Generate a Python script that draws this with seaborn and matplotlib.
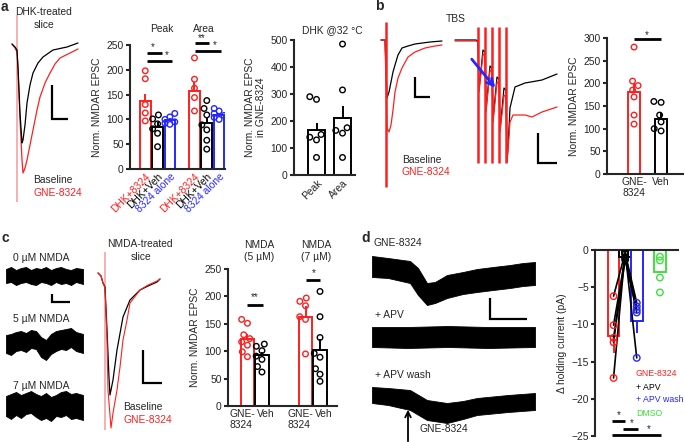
import numpy as np
import pandas as pd
import matplotlib.pyplot as plt
import seaborn as sns

# Figure size in pixels
W, H = 685, 442

sns.set_style('ticks')
plt.rcParams['font.family'] = ['Liberation Sans', 'DejaVu Sans']
plt.rcParams['font.size'] = 7.4
plt.rcParams['axes.linewidth'] = 1.5

RED = '#ff1f1f'
BLUE = '#2626ff'
GREEN = '#3ee03e'
PINK = '#f5a3a3'
FS = 7.4

# ---------------- data ----------------
# a: DHK-treated slice traces (time, amplitude relative to baseline)
a_t_red = [4, 7, 9, 10, 12, 14, 15, 17, 19, 22, 25, 29, 32, 37, 42, 47, 52, 62, 70]
a_red = [0, -4, -8, -26, -76, -116, -129, -124, -116, -101, -86, -66, -53, -39, -29, -20, -14, -9, -5]
a_t_blk = [4, 7, 9, 10, 12, 14, 15, 17, 19, 22, 25, 30, 35, 45, 59, 70]
a_blk = [0, -3, -6, -23, -69, -99, -96, -81, -59, -41, -29, -19, -13, -6, -3, 1]

# a: bar chart (Peak / Area)
a_groups = ['DHK+8324', 'DHK+Veh', '8324 alone', 'DHK+8324', 'DHK+Veh', '8324 alone']
a_mean = [137, 84, 99, 158, 93, 108]
a_sem = [14, 10, 4, 18, 10, 5]
a_pts = [[198, 182, 130, 113, 97],
         [109, 101, 91, 81, 72, 45],
         [112, 105, 100, 95, 92, 90],
         [224, 181, 163, 144, 117],
         [138, 122, 109, 89, 79, 58, 40],
         [122, 117, 112, 108, 104, 100]]

# a: DHK @32 C
a2_groups = ['Peak', 'Area']
a2_mean = [167, 210]
a2_sem = [27, 45]
a2_pts = [[290, 280, 150, 140, 130, 65], [485, 315, 175, 165, 155, 65]]

# b: TBS traces
b1_t_red = [3, 7, 9, 11, 13, 15, 17, 20, 24, 30, 37, 47, 57, 64]
b1_red = [0, 0, -88, -92, -85, -70, -52, -38, -28, -17, -12, -8, -6, -5]
b1_t_blk = [3, 7, 9, 11, 13, 15, 17, 20, 24, 30, 37, 52, 64]
b1_blk = [0, 0, -58, -52, -42, -32, -25, -15, -8, -6, -4, -2, -1]
b2_stim = [28, 35, 42, 49, 56]
b2_t_blk = [5, 26, 28, 29, 33, 35, 36, 40, 42, 43, 47, 49, 50, 54, 56, 57, 58, 60, 65, 75, 92, 107]
b2_blk = [0, 0, -1, -50, -10, -12, -70, -26, -28, -80, -37, -39, -90, -48, -50, -120, -108, -68, -47, -43, -40, -34]
b2_t_red = [5, 26, 28, 29, 33, 35, 36, 40, 42, 43, 47, 49, 50, 54, 56, 57, 58, 60, 63, 75, 82, 92, 107]
b2_red = [-1, -1, -2, -52, -14, -16, -72, -30, -32, -82, -42, -44, -92, -55, -57, -122, -110, -82, -75, -75, -77, -72, -67]

# b: bar chart
b_groups = ['GNE-\n8324', 'Veh']
b_mean = [180, 122]
b_sem = [20, 12]
b_pts = [[280, 205, 195, 185, 170, 130, 110], [160, 158, 130, 115, 100, 95]]

# c: holding current noise (upper / lower envelope)
c_t = [2, 7, 12, 17, 22, 27, 32, 37, 42, 47, 52, 57, 62, 67, 72, 79]
c_up = [[7, 9, 6, 8, 9, 6, 8, 7, 9, 6, 8, 9, 7, 6, 8, 7],
        [8, 9, 11, 12, 10, 13, 12, 6, 3, 9, 12, 13, 14, 15, 11, 9],
        [10, 12, 14, 11, 13, 15, 12, 10, 13, 9, 11, 14, 15, 12, 13, 11]]
c_lo = [[-7, -6, -9, -7, -6, -8, -9, -6, -7, -9, -6, -8, -7, -9, -6, -8],
        [-10, -12, -8, -7, -9, -5, -6, -14, -17, -11, -8, -6, -7, -4, -8, -10],
        [-10, -13, -9, -12, -8, -7, -11, -14, -12, -15, -10, -11, -9, -13, -12, -14]]
c_names = ['0 \u00b5M NMDA', '5 \u00b5M NMDA', '7 \u00b5M NMDA']

# c: NMDA-treated slice traces
c2_t_blk = [3, 6, 8, 10, 12, 14, 15, 18, 22, 28, 35, 45, 53, 62, 65]
c2_blk = [3, 0, -7, -11, -54, -102, -119, -104, -74, -41, -24, -14, -10, -6, -3]
c2_t_red = [3, 6, 8, 10, 12, 13, 16, 18, 22, 25, 28, 32, 35, 45, 53, 62, 65]
c2_red = [3, 0, -7, -12, -64, -114, -152, -137, -114, -91, -64, -44, -27, -14, -9, -5, -3]

# c: bar chart
c_groups = ['GNE-\n8324', 'Veh', 'GNE-\n8324', 'Veh']
c_mean = [122, 93, 163, 102]
c_sem = [9, 6, 20, 21]
c_pts = [[158, 151, 130, 123, 117, 111, 99, 90],
         [113, 109, 101, 91, 85, 72, 62],
         [197, 191, 183, 163, 158, 95],
         [209, 163, 125, 96, 89, 68, 58, 45]]

# d: holding current traces (upper / lower envelope)
d_t = [[4, 20, 42, 50, 59, 67, 79, 95, 109, 125, 142, 155, 167],
       [4, 40, 80, 120, 167],
       [4, 20, 42, 59, 79, 95, 109, 140, 167]]
d_up = [[10, 8, 5, -2, -17, -16, -9, -6, -3, -1, 1, 3, 4],
        [10, 10, 11, 10, 10],
        [8, 7, 5, -5, -8, -6, -3, 0, 2]]
d_lo = [[-11, -12, -17, -29, -39, -37, -32, -28, -26, -24, -22, -20, -19],
        [-10, -11, -10, -11, -10],
        [-8, -10, -15, -25, -28, -24, -20, -17, -15]]
d_names = ['GNE-8324', '+ APV', '+ APV wash']

# d: bar chart, paired cells
d_groups = ['GNE-8324', '+ APV', '+ APV wash', 'DMSO']
d_mean = [-11.5, -1.0, -9.5, -3.0]
d_sem = [2.4, 0, 1.7, 0]
d_gne = [-6.2, -10.1, -12.4, -17.2, -11.8]
d_apv = [-0.4, -1.0, -0.6, -0.2, -1.3]
d_wash = [-7.1, -8.4, -7.6, -14.5, -8.05]
d_dmso = [-0.9, -1.4, -3.7, -5.7]

# ---------------- helpers ----------------
fig = plt.figure(figsize=(W / 100, H / 100), dpi=100)


def rect(l, t, r, b):
    return [l / W, 1 - b / H, (r - l) / W, (b - t) / H]


def label(x, y, s, **kw):
    kw.setdefault('va', 'center')
    fig.text(x / W, 1 - y / H, s, **kw)


def trace_ax(l, t, r, b, y0):
    ax = fig.add_axes(rect(l, t, r, b))
    ax.set_xlim(0, r - l)
    ax.set_ylim(-(b - y0), y0 - t)
    ax.axis('off')
    return ax


def scalebar(ax, x, y, w, h):
    ax.plot([x, x, x + w], [y + h, y, y], color='k', lw=1.6,
            solid_joinstyle='miter', solid_capstyle='butt', clip_on=False)


def hollow(ax, n0, lw=1.0):
    for coll in ax.collections[n0:]:
        coll.set_edgecolor(coll.get_facecolor())
        coll.set_facecolor('none')
        coll.set_linewidth(lw)


def bar_panel(ax, pos, means, sems, pts, colors, width, down=False):
    keys = ['k%d' % i for i in range(len(pos))]
    pal = dict(zip(keys, colors))
    sns.barplot(x=pos, y=means, hue=keys, palette=pal, native_scale=True, fill=False,
                width=width, linewidth=1.4, errorbar=None, legend=False, ax=ax)
    for p, m, s, c in zip(pos, means, sems, colors):
        if s:
            err = [[s], [0]] if down else [[0], [s]]
            ax.errorbar(p, m, yerr=err, fmt='none', ecolor=c, elinewidth=1.4, capsize=0)
    if pts is not None:
        n = [len(v) for v in pts]
        n0 = len(ax.collections)
        sns.swarmplot(x=np.repeat(pos, n), y=np.concatenate(pts), hue=np.repeat(keys, n),
                      palette=pal, native_scale=True, size=4, legend=False, ax=ax, zorder=3)
        hollow(ax, n0)


def axis_style(ax, ylim, yticks, xlim):
    ax.set_xlim(*xlim)
    ax.set_ylim(*ylim)
    ax.set_yticks(list(yticks))
    sns.despine(ax=ax)
    ax.tick_params(axis='y', length=3, width=1.5, pad=1.5, labelsize=FS)
    ax.tick_params(axis='x', length=0, pad=2, labelsize=FS)


def sig(ax, x0, x1, y):
    ax.plot([x0, x1], [y, y], color='k', lw=2, clip_on=False, solid_capstyle='butt')


def star(ax, x, y, s='*'):
    ax.text(x, y, s, ha='center', va='center', fontsize=7)


# ---------------- panel a ----------------
label(1, 11, 'a', weight='bold', size=10, va='baseline')
ax = trace_ax(8, 10, 82, 205, 44)
ax.vlines(9, -158, 29, color=PINK, lw=1.2)
sns.lineplot(x=a_t_red, y=a_red, color=RED, lw=0.9, ax=ax, estimator=None, sort=False)
sns.lineplot(x=a_t_blk, y=a_blk, color='k', lw=0.9, ax=ax, estimator=None, sort=False)
ax.axis('off')
scalebar(ax, 44, -75, 16, 34)
label(44, 12, 'DHK-treated', ha='center')
label(44, 25, 'slice', ha='center')
label(33, 180, 'Baseline')
label(33, 193, 'GNE-8324', color=RED)

a_colors = [RED, 'k', BLUE, RED, 'k', BLUE]
a_pos = [0, 1, 2, 4, 5, 6]
ax = fig.add_axes(rect(130, 45, 225, 169))
bar_panel(ax, a_pos, a_mean, a_sem, a_pts, a_colors, 0.87)
axis_style(ax, (0, 250), range(0, 251, 50), (-1.24, 6.48))
ax.set_xticks(a_pos)
ax.set_xticklabels(a_groups, rotation=45, ha='right', rotation_mode='anchor')
for tl, c in zip(ax.get_xticklabels(), a_colors):
    tl.set_color(c)
ax.set_ylabel('Norm. NMDAR EPSC', labelpad=3)
sig(ax, 0.14, 1.36, 234)
sig(ax, 0.14, 2.17, 218)
star(ax, 0.63, 246)
star(ax, 1.76, 229)
sig(ax, 4.04, 5.2, 254)
sig(ax, 4.04, 6.15, 238)
star(ax, 4.6, 264, '**')
star(ax, 5.67, 249)
label(162, 29, 'Peak', ha='center')
label(204, 29, 'Area', ha='center')

ax = fig.add_axes(rect(294, 40, 355, 175))
bar_panel(ax, [0, 1], a2_mean, a2_sem, a2_pts, ['k', 'k'], 0.65)
axis_style(ax, (0, 500), range(0, 501, 100), (-0.865, 1.48))
ax.set_xticks([0, 1])
ax.set_xticklabels(a2_groups, rotation=45, ha='right', rotation_mode='anchor')
ax.set_ylabel('Norm. NMDAR EPSC\nin GNE-8324', labelpad=3)
label(332, 30, 'DHK @32 \u00b0C', ha='center')

# ---------------- panel b ----------------
label(375, 10, 'b', weight='bold', size=10, va='baseline')
ax = trace_ax(378, 15, 448, 192, 40)
sns.lineplot(x=b1_t_blk, y=b1_blk, color='k', lw=0.9, ax=ax, estimator=None, sort=False)
sns.lineplot(x=b1_t_red, y=b1_red, color=RED, lw=0.9, ax=ax, estimator=None, sort=False)
ax.vlines(8, -147, 18, color=RED, lw=1.8)
ax.axis('off')
scalebar(ax, 37, -57, 15, 20)
label(402, 160, 'Baseline')
label(402, 172, 'GNE-8324', color=RED)

ax = trace_ax(450, 15, 560, 192, 40)
sns.lineplot(x=b2_t_blk, y=b2_blk, color='k', lw=0.9, ax=ax, estimator=None, sort=False)
sns.lineplot(x=b2_t_red, y=b2_red, color=RED, lw=0.9, ax=ax, estimator=None, sort=False)
ax.vlines(b2_stim, -123, 13, color=RED, lw=1.8)
ax.annotate('', xy=(47, -50), xytext=(20, -17),
            arrowprops=dict(arrowstyle='->', color=BLUE, lw=2, mutation_scale=12))
ax.axis('off')
scalebar(ax, 88, -123, 19, 30)
label(456, 19, 'TBS', ha='center')

ax = fig.add_axes(rect(607, 38, 683, 174))
bar_panel(ax, [0, 1], b_mean, b_sem, b_pts, [RED, 'k'], 0.44)
axis_style(ax, (0, 300), range(0, 301, 50), (-1.0, 1.81))
ax.set_xticks([0, 1])
ax.set_xticklabels(b_groups)
ax.set_ylabel('Norm. NMDAR EPSC', labelpad=3)
sig(ax, 0, 1, 298)
star(ax, 0.48, 306)

# ---------------- panel c ----------------
label(1, 242, 'c', weight='bold', size=10, va='baseline')
ax = trace_ax(4, 262, 86, 425, 276)
for k, off in enumerate([0, -67, -130]):
    ax.fill_between(c_t, np.array(c_up[k]) + off, np.array(c_lo[k]) + off,
                    color='k', lw=0.6, edgecolor='k')
scalebar(ax, 48, -26, 18, 8)
for name, yy in zip(c_names, [258, 319, 386]):
    label(13, yy, name)

ax = trace_ax(95, 250, 170, 432, 276)
ax.vlines(10, -154, 24, color=PINK, lw=1.2)
sns.lineplot(x=c2_t_blk, y=c2_blk, color='k', lw=0.9, ax=ax, estimator=None, sort=False)
sns.lineplot(x=c2_t_red, y=c2_red, color=RED, lw=0.8, ax=ax, estimator=None, sort=False)
ax.axis('off')
scalebar(ax, 48, -107, 19, 33)
label(140, 244, 'NMDA-treated', ha='center')
label(141, 257, 'slice', ha='center')
label(123, 407, 'Baseline')
label(123, 420, 'GNE-8324', color=RED)

ax = fig.add_axes(rect(228, 269, 337, 406))
bar_panel(ax, [0, 1, 4, 5], c_mean, c_sem, c_pts, [RED, 'k', RED, 'k'], 0.92)
axis_style(ax, (0, 250), range(0, 251, 50), (-1.34, 6.17))
ax.set_xticks([0.52, 0.66, 4.52, 4.66])
ax.set_xticklabels(c_groups)
for tl, ha in zip(ax.get_xticklabels(), ['right', 'left', 'right', 'left']):
    tl.set_ha(ha)
    tl.set_multialignment('left')
ax.set_ylabel('Norm. NMDAR EPSC', labelpad=3)
sig(ax, 0, 1.1, 185)
star(ax, 0.52, 198, '**')
sig(ax, 4, 5, 230)
star(ax, 4.55, 242)
label(259, 245, 'NMDA', ha='center')
label(259, 257, '(5 \u00b5M)', ha='center')
label(316, 245, 'NMDA', ha='center')
label(316, 257, '(7 \u00b5M)', ha='center')

# ---------------- panel d ----------------
label(361, 242, 'd', weight='bold', size=10, va='baseline')
ax = trace_ax(368, 250, 540, 442, 266)
for k, off in enumerate([0, -71, -129]):
    ax.fill_between(d_t[k], np.array(d_up[k]) + off, np.array(d_lo[k]) + off,
                    color='k', lw=0.6, edgecolor='k')
scalebar(ax, 122, -53, 37, 21)
ax.annotate('', xy=(40, -141), xytext=(40, -178), annotation_clip=False,
            arrowprops=dict(arrowstyle='->', color='k', lw=1.3, mutation_scale=10))
label(373, 243, d_names[0])
label(375, 315, d_names[1])
label(375, 375, d_names[2])
label(420, 429, 'GNE-8324')

d_colors = [RED, 'k', BLUE, GREEN]
ax = fig.add_axes(rect(595, 250, 678, 436))
bar_panel(ax, [0, 1, 2, 4], d_mean, d_sem, None, d_colors, 1.0, down=True)
pairs = pd.DataFrame({
    'cell': np.tile(np.arange(len(d_gne)), 3),
    'pos': np.repeat([0, 1, 2], len(d_gne)),
    'val': d_gne + d_apv + d_wash,
})
sns.lineplot(data=pairs, x='pos', y='val', units='cell', estimator=None,
             color='k', lw=1.2, ax=ax, sort=False)
pts = pd.DataFrame({
    'pos': [0] * len(d_gne) + [1] * len(d_apv) + [2] * len(d_wash) + [4] * len(d_dmso),
    'val': d_gne + d_apv + d_wash + d_dmso,
    'grp': ['r'] * len(d_gne) + ['k'] * len(d_apv) + ['b'] * len(d_wash) + ['g'] * len(d_dmso),
})
n0 = len(ax.collections)
sns.scatterplot(data=pts, x='pos', y='val', hue='grp',
                palette={'r': RED, 'k': 'k', 'b': BLUE, 'g': GREEN},
                s=22, legend=False, ax=ax, zorder=4)
hollow(ax, n0)
ax.set_xlim(-1.6, 5.56)
ax.set_ylim(-25, 0)
ax.set_yticks(range(-25, 1, 5))
sns.despine(ax=ax, top=False, bottom=True)
ax.tick_params(axis='y', length=3, width=1.5, pad=1.5, labelsize=FS)
ax.set_xticks([])
ax.set_xlabel('')
ax.set_ylabel('\u0394 holding current (pA)', labelpad=3)
sig(ax, -0.13, 0.99, -23)
star(ax, 0.47, -22.2)
sig(ax, 0.82, 2.1, -24)
star(ax, 1.6, -23.2)
sig(ax, -0.13, 4.1, -24.9)
star(ax, 3.0, -24.1)
for name, c, yy in zip(d_groups, d_colors, [374, 387, 399, 413]):
    label(636, yy, name, color=c, size=6.3)

fig.savefig('out.png', dpi=100)
